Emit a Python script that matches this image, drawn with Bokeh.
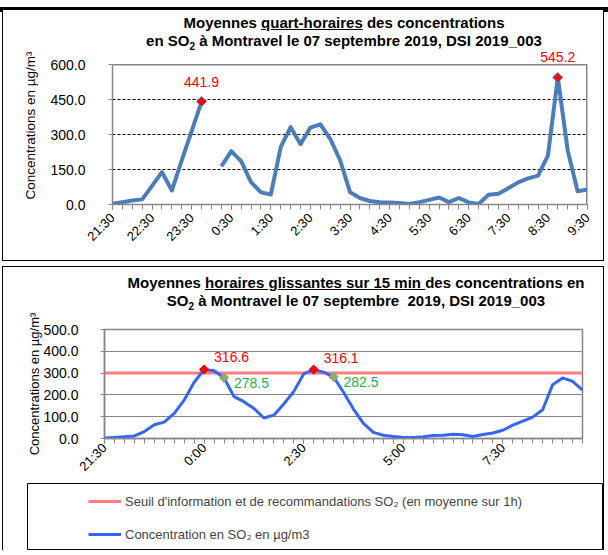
import math
from bokeh.plotting import figure
from bokeh.layouts import column, row
from bokeh.models import (Div, Spacer, Range1d, FixedTicker, NumeralTickFormatter,
                          ColumnDataSource, Label, Legend, LegendItem, Span)
from bokeh.embed import file_html
from bokeh.resources import INLINE

NAN = float("nan")

time_labels = ["21:30", "21:45", "22:00", "22:15", "22:30", "22:45", "23:00", "23:15",
               "23:30", "23:45", "0:00", "0:15", "0:30", "0:45", "1:00", "1:15", "1:30",
               "1:45", "2:00", "2:15", "2:30", "2:45", "3:00", "3:15", "3:30", "3:45",
               "4:00", "4:15", "4:30", "4:45", "5:00", "5:15", "5:30", "5:45", "6:00",
               "6:15", "6:30", "6:45", "7:00", "7:15", "7:30", "7:45", "8:00", "8:15",
               "8:30", "8:45", "9:00", "9:15", "9:30"]

# Moyennes quart-horaires (µg/m3)
quart_horaire = [3, 10, 17, 22, 80, 139, 60, 190, 315, 441.9,
                 NAN, 164, 229, 186, 96, 52, 43, 246, 332, 259,
                 330, 344, 282, 190, 53, 28, 15, 10, 9, 6,
                 2, 10, 20, 30, 10, 28, 9, 2, 42, 46,
                 70, 95, 112, 124, 210, 545.2, 232, 57, 64]

# Moyennes horaires glissantes (µg/m3)
glissante = [2, 5, 8, 12, 32, 63, 75, 115, 176, 258,
             316.6, 311, 278.5, 192, 169, 138, 94, 107, 158, 215,
             296, 316.1, 304, 282.5, 212, 135, 69, 28, 15, 9,
             5, 5, 8, 14, 15, 20, 17, 9, 18, 25,
             38, 61, 80, 98, 132, 247, 278, 262, 222]

seuil_valeur = 300
seuil = [seuil_valeur] * len(time_labels)

top_peak_idx = [9, 45]
top_peak_val = [441.9, 545.2]
bot_red_idx = [10, 21]
bot_red_val = [316.6, 316.1]
bot_green_idx = [12, 23]
bot_green_val = [278.5, 282.5]

top_label_idx = [0, 4, 8, 12, 16, 20, 24, 28, 32, 36, 40, 44, 48]
bot_label_idx = [0, 10, 20, 30, 40]
top_yticks = [0, 150, 300, 450, 600]
bot_yticks = [0, 100, 200, 300, 400, 500]

FONT = "Liberation Sans"
AXIS_GRAY = "#868686"

x = list(range(len(time_labels)))
src_top = ColumnDataSource(dict(x=x, y=quart_horaire))
src_bot = ColumnDataSource(dict(x=x, y=glissante, s=seuil))


def style_axes(p, label_idx, yticks, ylabel_size, ylab_standoff, ytick_standoff, xstand):
    p.xaxis.ticker = FixedTicker(ticks=label_idx, minor_ticks=x)
    p.xaxis.major_label_overrides = {i: time_labels[i] for i in label_idx}
    p.xaxis.major_label_orientation = math.pi / 4
    p.yaxis.ticker = FixedTicker(ticks=yticks)
    p.yaxis.formatter = NumeralTickFormatter(format="0.0")
    for ax in (p.xaxis[0], p.yaxis[0]):
        ax.axis_line_color = AXIS_GRAY
        ax.axis_line_width = 1.5
        ax.major_tick_line_color = AXIS_GRAY
        ax.minor_tick_line_color = AXIS_GRAY
        ax.major_tick_in = 0
        ax.minor_tick_in = 0
        ax.major_label_text_font = FONT
        ax.major_label_text_color = "black"
        ax.axis_label_text_font = FONT
        ax.axis_label_text_font_style = "normal"
        ax.axis_label_text_color = "black"
    p.xaxis.major_tick_out = 5
    p.xaxis.minor_tick_out = 5
    p.xaxis.major_label_text_font_size = "13px"
    p.xaxis.major_label_standoff = xstand
    p.yaxis.major_tick_out = 4
    p.yaxis.minor_tick_out = 0
    p.yaxis.major_label_text_font_size = "14px"
    p.yaxis.major_label_standoff = ytick_standoff
    p.yaxis.axis_label = "Concentrations en µg/m³"
    p.yaxis.axis_label_text_font_size = ylabel_size
    p.yaxis.axis_label_standoff = ylab_standoff
    p.outline_line_color = AXIS_GRAY
    p.outline_line_width = 1.5
    p.xgrid.visible = False
    p.background_fill_color = "white"
    p.border_fill_alpha = 0


def add_value_labels(p, idxs, vals, color, x_off, y_off, align):
    for xi, yv in zip(idxs, vals):
        p.add_layout(Label(x=xi, y=yv, text="%.1f" % yv, x_offset=x_off, y_offset=y_off,
                           text_align=align, text_baseline="middle", text_font=FONT,
                           text_font_size="14px", text_color=color))


TITLE_CSS = ("font-family:'Liberation Sans',Arial,sans-serif;font-weight:bold;"
             "font-size:15px;line-height:18px;text-align:center;color:#000;"
             "white-space:nowrap;")
SUB = "<sub style=\"font-size:10px;line-height:0\">2</sub>"

# ---------- Top chart ----------
# the frame reaches above 600 so that the value label of the 545.2 peak stays visible;
# the visible chart border is drawn at 600 and at the last category
p1 = figure(width=600, height=214, x_range=Range1d(0, 48), y_range=Range1d(0, 678),
            output_backend="svg", toolbar_location=None,
            min_border_left=109, min_border_right=16, min_border_top=0, min_border_bottom=56)
style_axes(p1, top_label_idx, top_yticks, "13.5px", 9, 23, 6)
p1.outline_line_color = None
p1.background_fill_alpha = 0
p1.yaxis.bounds = (top_yticks[0], top_yticks[-1])
p1.ygrid.ticker = FixedTicker(ticks=[150, 300, 450])
p1.ygrid.grid_line_color = "black"
p1.ygrid.grid_line_dash = "3 2"
p1.ygrid.grid_line_width = 1
p1.add_layout(Span(location=top_yticks[-1], dimension="width", line_color=AXIS_GRAY,
                   line_width=1.5))
p1.segment(x0=[x[-1]], y0=[top_yticks[0]], x1=[x[-1]], y1=[top_yticks[-1]],
           line_color=AXIS_GRAY, line_width=3)
p1.line("x", "y", source=src_top, line_width=4, line_color="#4A7EBB", line_join="round")
src_tp = ColumnDataSource(dict(x=top_peak_idx, y=top_peak_val))
p1.scatter("x", "y", source=src_tp, marker="square", angle=math.pi / 4, size=7,
           fill_color="red", line_color="#4A7EBB", line_width=1)
add_value_labels(p1, top_peak_idx, top_peak_val, "red", 0, 20, "center")

title1 = Div(width=600, height=36, margin=0, text=(
    "<div style=\"" + TITLE_CSS + "width:520px;margin-left:81px;padding-top:4px\">"
    "Moyennes <u>quart-horaires</u> des concentrations<br>"
    "en SO" + SUB + " à Montravel le 07 septembre 2019, DSI 2019_003</div>"),
    styles={"overflow": "visible"})

top_box = column(title1, p1, styles={"border": "1px solid #000", "margin-left": "2px",
                                      "background": "white"})

# ---------- Bottom chart ----------
p2 = figure(width=600, height=183, x_range=Range1d(0, 48), y_range=Range1d(0, 500),
            output_backend="svg", toolbar_location=None,
            min_border_left=101, min_border_right=21, min_border_top=29, min_border_bottom=45)
style_axes(p2, bot_label_idx, bot_yticks, "13px", -2, 22, 2)
p2.ygrid.ticker = FixedTicker(ticks=[100, 200, 300, 400])
p2.ygrid.grid_line_color = AXIS_GRAY
p2.ygrid.grid_line_width = 1
r_seuil = p2.line("x", "s", source=src_bot, line_width=3, line_color="#FF7F7F")
r_conc = p2.line("x", "y", source=src_bot, line_width=3, line_color="#3366FF",
                 line_join="round")
src_br = ColumnDataSource(dict(x=bot_red_idx, y=bot_red_val))
src_bg = ColumnDataSource(dict(x=bot_green_idx, y=bot_green_val))
p2.scatter("x", "y", source=src_br, marker="square", angle=math.pi / 4, size=6.5,
           fill_color="red", line_color="red", line_width=1)
p2.scatter("x", "y", source=src_bg, marker="square", angle=math.pi / 4, size=6.5,
           fill_color="#8DB04F", line_color="#7F9F9F", line_width=1)
add_value_labels(p2, bot_red_idx, bot_red_val, "red", 10, 12, "left")
add_value_labels(p2, bot_green_idx, bot_green_val, "#1FAF50", 10, -5, "left")

title2 = Div(width=600, height=33, margin=0, text=(
    "<div style=\"" + TITLE_CSS + "width:500px;margin-left:103px;padding-top:7px\">"
    "Moyennes <u>horaires glissantes sur 15 min </u>des concentrations en<br>"
    "SO" + SUB + " à Montravel le 07 septembre&nbsp; 2019, DSI 2019_003</div>"),
    styles={"overflow": "visible"})

# legend box
leg = figure(width=576, height=67, x_range=Range1d(0, 1), y_range=Range1d(1000, 1001),
             output_backend="svg", toolbar_location=None, min_border=0,
             x_axis_type=None, y_axis_type=None, outline_line_color="black",
             outline_line_width=1)
leg.grid.visible = False
lr1 = leg.line("x", "s", source=src_bot, line_width=3, line_color="#FF7F7F")
lr2 = leg.line("x", "y", source=src_bot, line_width=3, line_color="#3366FF")
legend = Legend(items=[
    LegendItem(label="Seuil d'information et de recommandations SO₂ (en moyenne sur 1h)",
               renderers=[lr1]),
    LegendItem(label="Concentration en SO₂ en µg/m3", renderers=[lr2])],
    location=(61, 6), border_line_color=None, background_fill_alpha=0, padding=0,
    spacing=13, glyph_width=33, glyph_height=20, label_height=20, label_standoff=4,
    label_text_font=FONT, label_text_font_size="13px", margin=0)
leg.add_layout(legend)

bottom_box = column(title2, p2, row(Spacer(width=24), leg),
                    styles={"border": "1px solid #000", "border-bottom": "none",
                            "margin-left": "2px", "background": "white"})

bar = Div(width=608, height=5, margin=0,
          text="<div style=\"width:608px;height:5px;background:#000\"></div>")

root = column(bar, Spacer(height=4), top_box, Spacer(height=5), bottom_box)

open("out.html", "w").write(file_html(root, INLINE))
